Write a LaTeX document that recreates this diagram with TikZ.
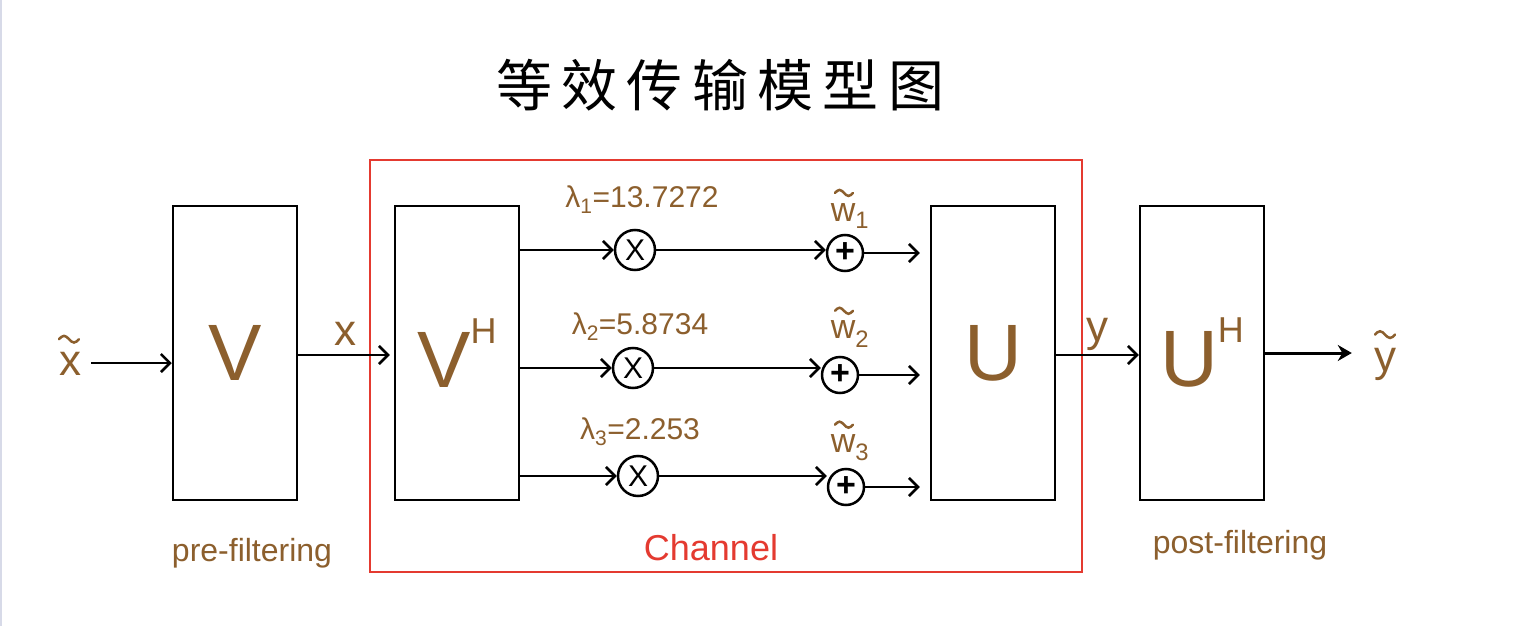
\documentclass[tikz,border=0pt]{standalone}
\usepackage{fontspec}
\newfontfamily\cjk{Noto Sans CJK SC}
\setsansfont{Liberation Sans}
\usetikzlibrary{arrows.meta}
\definecolor{brn}{RGB}{140,95,45}
\definecolor{chred}{RGB}{228,58,48}
\definecolor{edge}{RGB}{215,218,232}
\tikzset{
  blk/.style={draw=black, line width=2.5pt, minimum width=124pt, minimum height=294pt, inner sep=0pt, text=brn, font=\sffamily\fontsize{80}{80}\selectfont},
  mul/.style={draw=black, line width=2.5pt, circle, minimum size=40pt, inner sep=0pt, font=\sffamily\fontsize{30}{30}\selectfont},
  add/.style={draw=black, line width=2.5pt, circle, minimum size=36pt, inner sep=0pt, font=\sffamily\bfseries\fontsize{34}{34}\selectfont},
  arr/.style={draw=black, line width=2.5pt, -{Straight Barb[length=9pt,width=18pt,line width=2.5pt]}},
  lab/.style={text=brn, font=\sffamily\fontsize{30}{30}\selectfont, inner sep=0pt},
  big/.style={lab, font=\sffamily\fontsize{44}{44}\selectfont},
  wl/.style={lab, font=\sffamily\fontsize{34}{34}\selectfont},
  tld/.style={draw=brn, line width=2.5pt, line cap=round},
}
% tilde drawn as a wave centred at node #1 shifted by #2, half width #3
\newcommand\tildeat[3]{\draw[tld] ([shift={#2}]#1) ++(-#3,0) sin ++(#3/2,-#3/3) cos ++(#3/2,#3/3) sin ++(#3/2,#3/3) cos ++(#3/2,-#3/3);}
\begin{document}
\begin{tikzpicture}[x=1pt,y=-1pt]
\useasboundingbox (0,0) rectangle (1526,626);
\fill[white] (0,0) rectangle (1526,626);
\draw[edge, line width=1.5pt] (0.75,0) -- (0.75,626);
% title
\node[font=\cjk\fontsize{56}{56}\selectfont, inner sep=0pt] (title) at (720,85) {等\,效\,传\,输\,模\,型\,图};
% channel box
\draw[chred, line width=2pt] (370,160) rectangle (1082,572);
\node[text=chred, font=\sffamily\fontsize{36}{36}\selectfont, inner sep=0pt] (chan) at (711,548) {Channel};
% boxes
\node[blk] (v)  at (235,353) {V};
\node[blk] (vh) at (457,353) {V\raisebox{0.55em}{\fontsize{36}{36}\selectfont H}};
\node[blk] (u)  at (993,353) {U};
\node[blk] (uh) at (1202,353) {U\raisebox{0.55em}{\fontsize{36}{36}\selectfont H}};
% sub labels
\node[lab, font=\sffamily\fontsize{32}{32}\selectfont] (pre) at (252,553) {pre-filtering};
\node[lab, font=\sffamily\fontsize{32}{32}\selectfont] (post) at (1240,545) {post-filtering};
% multipliers and adders
\node[mul] (m1) at (635,250) {X};
\node[mul] (m2) at (633,368) {X};
\node[mul] (m3) at (638,476) {X};
\node[add] (a1) at (845,253) {+};
\node[add] (a2) at (840,375) {+};
\node[add] (a3) at (846,487) {+};
% lambda labels
\node[lab] (l1) at (642,200) {λ\textsubscript{1}=13.7272};
\node[lab] (l2) at (640,327) {λ\textsubscript{2}=5.8734};
\node[lab] (l3) at (640,432) {λ\textsubscript{3}=2.253};
% noise labels
\node[wl] (w1) at (850,216) {w\textsubscript{1}};
\node[wl] (w2) at (850,334) {w\textsubscript{2}};
\node[wl] (w3) at (850,448) {w\textsubscript{3}};
\tildeat{w1.north}{(-6,-10)}{9}
\tildeat{w2.north}{(-6,-10)}{9}
\tildeat{w3.north}{(-6,-10)}{9}
% input / output
\node[big] (xin) at (70,364) {x};
\node[big] (yout) at (1385,364) {y};
\tildeat{xin.north}{(-1,-13)}{10}
\tildeat{yout.north}{(0,-13)}{10}
\node[big] (xl) at (345,334) {x};
\node[big] (yl) at (1097,334) {y};
% connectors
\draw[arr] (xin.east |- 0,363) ++(10,0) coordinate (xs) -- (v.west |- xs);
\draw[arr] (v.east |- 0,355) -- ([xshift=-4pt]vh.west |- 0,355);
\draw[arr] (u.east |- 0,355) -- (uh.west |- 0,355);
\draw[draw=black, line width=3pt, -{Stealth[length=14pt,width=16pt]}] (uh.east |- 0,353) -- ([xshift=-22pt]yout.west |- 0,353);
\foreach \i in {1,2,3}{
  \draw[arr] (vh.east |- m\i) -- (m\i);
  \draw[arr] (m\i) -- (a\i.west |- m\i);
  \draw[arr, shorten >=10pt] (a\i) -- (u.west |- a\i);
}
\end{tikzpicture}
\end{document}
